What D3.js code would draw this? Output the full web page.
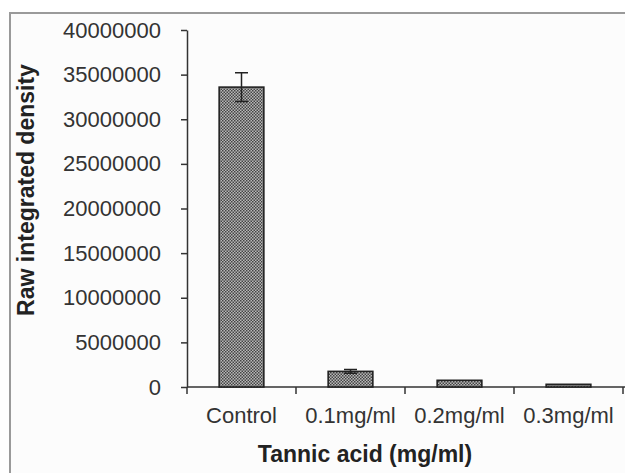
<!DOCTYPE html>
<meta charset="utf-8">
<style type="text/css">
    body { margin: 0; background: #fff; }
    svg text { font-family: "Liberation Sans", Arial, sans-serif; fill: #333; }
    .axis path, .axis line { stroke: #333; stroke-width: 1.5; }
    .bar { stroke: #222; stroke-width: 1.6; }
    .err { stroke: #222; stroke-width: 1.5; fill: none; }
    .title { font-weight: bold; fill: #222; }
</style>
<body></body>
<script src="https://d3js.org/d3.v7.min.js"></script>
<script>

    // data
    var categories = ["Control", "0.1mg/ml", "0.2mg/ml", "0.3mg/ml"];
    var values = [33600000, 1750000, 750000, 300000];
    var errors = [1600000, 200000, 0, 0];
    var yTicks = [0, 5000000, 10000000, 15000000, 20000000, 25000000, 30000000, 35000000, 40000000];

    var W = 625, H = 473;

    var svg = d3.select("body").append("svg")
        .attr("width", W)
        .attr("height", H);

    // frame
    svg.append("rect")
        .attr("x", 10).attr("y", 13)
        .attr("width", W).attr("height", H)
        .attr("fill", "#fcfcfc")
        .attr("stroke", "#9a9a9a")
        .attr("stroke-width", 2);

    // dotted fill like the original
    var defs = svg.append("defs");
    var pat = defs.append("pattern")
        .attr("id", "dots")
        .attr("patternUnits", "userSpaceOnUse")
        .attr("width", 3).attr("height", 3);
    pat.append("rect").attr("width", 3).attr("height", 3).attr("fill", "#b8b8b8");
    pat.append("rect").attr("width", 1.5).attr("height", 1.5).attr("fill", "#444");
    pat.append("rect").attr("x", 1.5).attr("y", 1.5).attr("width", 1.5).attr("height", 1.5).attr("fill", "#444");

    var x = d3.scaleBand()
        .domain(categories)
        .range([187, 623])
        .paddingInner(0.59)
        .paddingOuter(0.295);

    var y = d3.scaleLinear()
        .domain([0, 40000000])
        .range([387, 30]);

    // y axis
    var yAxis = svg.append("g")
        .attr("class", "axis")
        .attr("transform", "translate(187,0)")
        .call(d3.axisLeft(y).tickValues(yTicks).tickFormat(d3.format("d")).tickSize(6).tickPadding(20).tickSizeOuter(0));
    yAxis.selectAll("text")
        .style("font-size", "22px")
        .attr("fill", "#333");

    // x axis: line and ticks between categories
    var step = x.step();
    var x0 = x.range()[0];
    var xAxis = svg.append("g").attr("class", "axis");
    xAxis.append("line")
        .attr("x1", x0).attr("x2", W)
        .attr("y1", y(0)).attr("y2", y(0));
    xAxis.selectAll(".xt")
        .data(d3.range(categories.length + 1))
        .enter().append("line")
        .attr("class", "xt")
        .attr("x1", function(i) { return x0 + i * step; })
        .attr("x2", function(i) { return x0 + i * step; })
        .attr("y1", y(0)).attr("y2", y(0) + 7);
    xAxis.selectAll(".xl")
        .data(categories)
        .enter().append("text")
        .attr("class", "xl")
        .attr("x", function(d) { return x(d) + x.bandwidth() / 2; })
        .attr("y", 423)
        .attr("text-anchor", "middle")
        .style("font-size", "22px")
        .text(function(d) { return d; });

    // bars
    svg.selectAll(".bar")
        .data(values)
        .enter().append("rect")
        .attr("class", "bar")
        .attr("x", function(d, i) { return x(categories[i]); })
        .attr("y", function(d) { return y(d); })
        .attr("width", x.bandwidth())
        .attr("height", function(d) { return y(0) - y(d); })
        .attr("fill", "url(#dots)");

    // error bars
    var capW = 6.5;
    var eb = svg.selectAll(".eb")
        .data(values.map(function(v, i) { return {c: categories[i], v: v, e: errors[i]}; }).filter(function(d) { return d.e > 0; }))
        .enter().append("g")
        .attr("class", "err");
    eb.append("path")
        .attr("d", function(d) {
            var cx = x(d.c) + x.bandwidth() / 2;
            var top = y(d.v + d.e), bot = y(d.v - d.e);
            return "M" + cx + "," + top + "V" + bot +
                "M" + (cx - capW) + "," + top + "H" + (cx + capW) +
                "M" + (cx - capW) + "," + bot + "H" + (cx + capW);
        });

    // axis titles
    svg.append("text")
        .attr("class", "title")
        .attr("x", 365).attr("y", 462)
        .attr("text-anchor", "middle")
        .style("font-size", "23px")
        .text("Tannic acid (mg/ml)");

    svg.append("text")
        .attr("class", "title")
        .attr("transform", "translate(34,190) rotate(-90)")
        .attr("text-anchor", "middle")
        .style("font-size", "23px")
        .text("Raw integrated density");

</script>
